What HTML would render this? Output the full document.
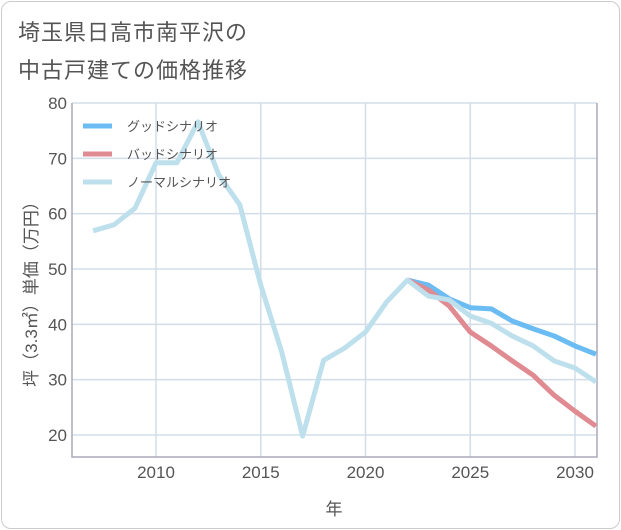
<!DOCTYPE html>
<html><head><meta charset="utf-8"><style>
html,body{margin:0;padding:0;background:#fff;}
body{width:621px;height:530px;overflow:hidden;font-family:"Liberation Sans","Noto Sans CJK JP",sans-serif;}
.card{position:absolute;left:1px;top:1px;width:617px;height:526px;border:1px solid #ccc;border-radius:10px;background:#fff;}
.title{position:absolute;left:18px;top:14px;font-size:22px;line-height:38px;color:#555;letter-spacing:1px;}
</style></head><body>
<div class="card"></div>
<div class="title">埼玉県日高市南平沢の<br>中古戸建ての価格推移</div>
<svg id="chart" width="621" height="530" style="position:absolute;left:0;top:0"></svg>
<script>
const years=[2007,2008,2009,2010,2011,2012,2013,2014,2015,2016,2017,2018,2019,2020,2021,2022,2023,2024,2025,2026,2027,2028,2029,2030,2031];
const normalValues=[56.9,58,61,69.2,69.2,76.6,67,61.6,47.1,35,19.8,33.5,35.7,38.6,44,48,45.1,44.4,41.5,40.2,37.9,36.1,33.4,32.1,29.6];
const goodYears=[2022,2023,2024,2025,2026,2027,2028,2029,2030,2031];
const goodValues=[48,47.1,44.6,43,42.8,40.6,39.2,37.9,36.1,34.6];
const badYears=[2022,2023,2024,2025,2026,2027,2028,2029,2030,2031];
const badValues=[48,46.2,43.3,38.6,36.1,33.4,30.8,27.2,24.3,21.6];
const yTicks=[20,30,40,50,60,70,80];
const xTicks=[2010,2015,2020,2025,2030];
const legendLabels=["グッドシナリオ","バッドシナリオ","ノーマルシナリオ"];
const legendColors=["#6bbcf2","#e08a92","#bde0ec"];

const L=72,R=597,T=103,B=457;
const x=v=>156+(v-2010)*20.95;
const y=v=>T+(80-v)*5.533;
const svg=document.getElementById('chart');
const NS='http://www.w3.org/2000/svg';
function mk(t,a){const e=document.createElementNS(NS,t);for(const k in a)e.setAttribute(k,a[k]);svg.appendChild(e);return e;}

yTicks.forEach(v=>{
  const g=mk('line',{x1:L,x2:R,y1:y(v),y2:y(v),stroke:'#d3dde8','stroke-width':1.5});
  
  
  const t=mk('text',{x:L-5,y:y(v)+6,'text-anchor':'end','font-size':17,fill:'#555'});
  t.textContent=v;
  
  
});
xTicks.forEach(v=>{
  const g=mk('line',{x1:x(v),x2:x(v),y1:T,y2:B,stroke:'#d3dde8','stroke-width':1.5});
  
  
  const t=mk('text',{x:x(v),y:B+21,'text-anchor':'middle','font-size':17,fill:'#555'});
  t.textContent=v;
  
  
});
const ax=mk('path',{d:`M${L},${T} V${B} H${R} V${T}`,fill:'none',stroke:'#aab','stroke-width':1.5});



function line(xs,vs,c,name){
  const p=mk('polyline',{points:xs.map((yr,i)=>x(yr)+','+y(vs[i])).join(' '),fill:'none',stroke:c,'stroke-width':5,'stroke-linejoin':'round'});
  
  
}
line(goodYears,goodValues,legendColors[0],'good-scenario-line');
line(badYears,badValues,legendColors[1],'bad-scenario-line');
line(years,normalValues,legendColors[2],'normal-scenario-line');

legendLabels.forEach((s,i)=>{
  const ly=126+i*28;
  const r=mk('line',{x1:83,x2:112,y1:ly,y2:ly,stroke:legendColors[i],'stroke-width':5});
  
  
  const t=mk('text',{x:127,y:ly+5,'font-size':13,fill:'#555'});
  t.textContent=s;
  
  
});
const yt=mk('text',{transform:'translate(37,290) rotate(-90)','text-anchor':'middle','font-size':17,fill:'#555'});
yt.textContent='坪（3.3㎡）単価（万円）';


const xt=mk('text',{x:334,y:515,'text-anchor':'middle','font-size':17,fill:'#555'});
xt.textContent='年';


</script>
</body></html>
